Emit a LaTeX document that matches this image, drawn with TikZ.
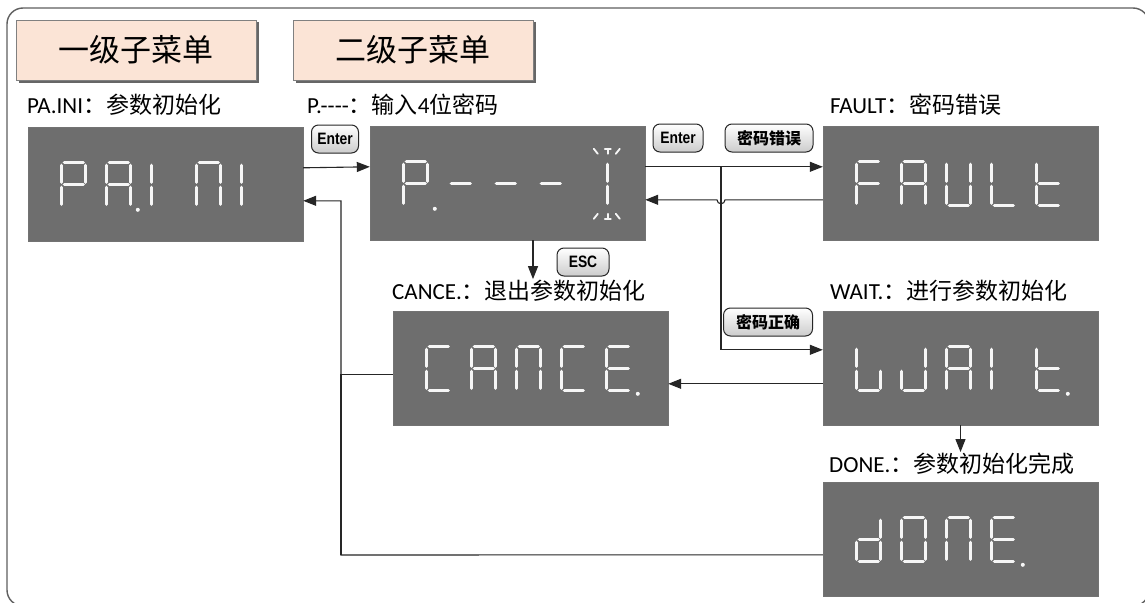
\documentclass[tikz,border=0pt]{standalone}
\usepackage{fontspec}
\setmainfont{Carlito}
\newfontfamily\cjk{Noto Sans CJK SC}
\newfontfamily\btnfont{Liberation Sans}[FakeStretch=0.84]
\usetikzlibrary{arrows.meta,shadows}
\definecolor{peach}{RGB}{251,228,214}
\definecolor{dispgray}{RGB}{110,110,110}
\definecolor{segwhite}{RGB}{246,246,246}
\definecolor{framegray}{RGB}{95,95,95}
\tikzset{
 segline/.style={draw=segwhite, line width=3.2pt, line cap=round},
 flashline/.style={draw=segwhite, line width=1.8pt, line cap=round},
 disp/.style={draw=black!55, fill=dispgray, minimum width=275pt, minimum height=114pt, inner sep=0pt},
 hdr/.style={draw=black!50, fill=peach, minimum width=240pt, minimum height=60pt, inner sep=0pt,
   font=\cjk\fontsize{31}{33}\selectfont,
   drop shadow={shadow xshift=2.5pt, shadow yshift=-2.5pt, fill=black!60, opacity=1}},
 lbl/.style={anchor=west, inner sep=1pt, font=\fontsize{23}{26}\selectfont},
 keybox/.style={draw=black!85, line width=1pt, rounded corners=7pt, top color=white, bottom color=black!20,
   inner xsep=4pt, inner ysep=0pt, minimum height=28pt, font=\btnfont\bfseries\fontsize{16.5}{18}\selectfont},
 ckeybox/.style={keybox, font=\cjk\bfseries\fontsize{16}{18}\selectfont},
 conn/.style={line width=1.1pt, draw=black!85},
 arr/.style={conn, -{Triangle[length=13pt,width=10pt]}},
}
\newcommand\zsga{\draw[segline] (2.5,0)--(21.5,0);}
\newcommand\zsgb{\draw[segline] (24,2.5)--(24,19.5);}
\newcommand\zsgc{\draw[segline] (24,24.5)--(24,41.5);}
\newcommand\zsgd{\draw[segline] (2.5,44)--(21.5,44);}
\newcommand\zsge{\draw[segline] (0,24.5)--(0,41.5);}
\newcommand\zsgf{\draw[segline] (0,2.5)--(0,19.5);}
\newcommand\zsgg{\draw[segline] (2.5,22)--(21.5,22);}
\newcommand\zsgp{\fill[segwhite] (31,47) circle[radius=2pt];}
\newcommand\zsgx{% flashing marks
  \draw[flashline] (10,-13)--(14,-8);
  \draw[flashline] (21,-13)--(27,-13) (24,-13)--(24,-8);
  \draw[flashline] (36,-13)--(32,-8);
  \draw[flashline] (10,57)--(14,52);
  \draw[flashline] (21,57)--(27,57) (24,57)--(24,52);
  \draw[flashline] (36,57)--(32,52);}
\newcommand\digitat[3]{%
 \begin{scope}[shift={(#1.north west)}]
   \begin{scope}[shift={({34+45*#2},36)}]
     \foreach \s in {#3}{\csname zsg\s\endcsname}
   \end{scope}
 \end{scope}}
\begin{document}
\begin{tikzpicture}[x=1pt,y=-1pt]
\useasboundingbox (0,0) rectangle (1145,602);
\clip (0,0) rectangle (1145,602);
\fill[white] (0,0) rectangle (1145,602);
\draw[framegray, line width=1.4pt, rounded corners=16pt] (7,8) rectangle (1149,606);

% headers
\node[hdr] (h1) at (136,50) {一级子菜单};
\node[hdr] (h2) at (413,50) {二级子菜单};

% labels
\node[lbl] (lpa) at (26,105) {PA.INI{\cjk ：参数初始化}};
\node[lbl] (lpw) at (306,105) {P.-{}-{}-{}-{\cjk ：输入}4{\cjk 位密码}};
\node[lbl] (lfault) at (829,105) {FAULT{\cjk ：密码错误}};
\node[lbl] (lcance) at (391,291) {CANCE.{\cjk ：退出参数初始化}};
\node[lbl] (lwait) at (829,291) {WAIT.{\cjk ：进行参数初始化}};
\node[lbl] (ldone) at (828,464) {DONE.{\cjk ：参数初始化完成}};

% displays
\node[disp] (pa) at (165.5,184) {};
\node[disp] (pw) at (507.5,183) {};
\node[disp] (fault) at (960.5,183) {};
\node[disp] (cance) at (530.5,368) {};
\node[disp] (wait) at (960.5,368) {};
\node[disp] (done) at (960.5,539) {};

% digits
\digitat{pa}{0}{a,b,e,f,g}
\digitat{pa}{1}{a,b,c,e,f,g,p}
\digitat{pa}{2}{e,f}
\digitat{pa}{3}{a,b,c,e,f}
\digitat{pa}{4}{e,f}

\digitat{pw}{0}{a,b,e,f,g,p}
\digitat{pw}{1}{g}
\digitat{pw}{2}{g}
\digitat{pw}{3}{g}
\digitat{pw}{4}{b,c,x}

\digitat{fault}{0}{a,e,f,g}
\digitat{fault}{1}{a,b,c,e,f,g}
\digitat{fault}{2}{b,c,d,e,f}
\digitat{fault}{3}{d,e,f}
\digitat{fault}{4}{d,e,f,g}

\digitat{cance}{0}{a,d,e,f}
\digitat{cance}{1}{a,b,c,e,f,g}
\digitat{cance}{2}{a,b,c,e,f}
\digitat{cance}{3}{a,d,e,f}
\digitat{cance}{4}{a,d,e,f,g,p}

\digitat{wait}{0}{c,d,e,f}
\digitat{wait}{1}{b,c,d,e}
\digitat{wait}{2}{a,b,c,e,f,g}
\digitat{wait}{3}{e,f}
\digitat{wait}{4}{d,e,f,g,p}

\digitat{done}{0}{b,c,d,e,g}
\digitat{done}{1}{a,b,c,d,e,f}
\digitat{done}{2}{a,b,c,e,f}
\digitat{done}{3}{a,d,e,f,g,p}

% keys
\node[keybox, minimum width=47pt] (k1) at (335,139) {Enter};
\node[keybox, minimum width=50pt] (k2) at (678,138) {Enter};
\node[ckeybox, minimum width=88pt] (k3) at (769,138) {密码错误};
\node[keybox, minimum width=52pt] (k4) at (583,262) {ESC};
\node[ckeybox, minimum width=89pt] (k5) at (768,322) {密码正确};

% connectors
\coordinate (j) at (721,167);
\coordinate (rb) at (341,555);
\draw[arr] ([yshift=-41pt]pa.north east) -- ([yshift=-41pt]pw.north west);
\draw[arr] ([yshift=-41pt]pw.north east) -- ([yshift=-41pt]fault.north west);
\draw[arr] (j) |- ([yshift=-39pt]wait.north west);
\draw[arr] ([yshift=-74pt]fault.north west) -- ([xshift=4pt,yshift=-74pt]j |- fault.north west)
   arc[start angle=0, end angle=-180, radius=4pt] -- ([yshift=-74pt]pw.north east);
\draw[arr] ([yshift=-73pt]wait.north west) -- ([yshift=-73pt]cance.north east);
\draw[arr] ([xshift=25.5pt]pw.south) -- ([xshift=25.5pt]pw.south |- lcance.north);
\draw[arr] (wait.south) -- (wait.south |- ldone.north);
\draw[conn] ([yshift=-64pt]cance.north west) -| (rb);
\draw[arr] ([yshift=-73pt]done.north west) -- (rb) |- ([yshift=-74pt]pa.north east);
\end{tikzpicture}
\end{document}
